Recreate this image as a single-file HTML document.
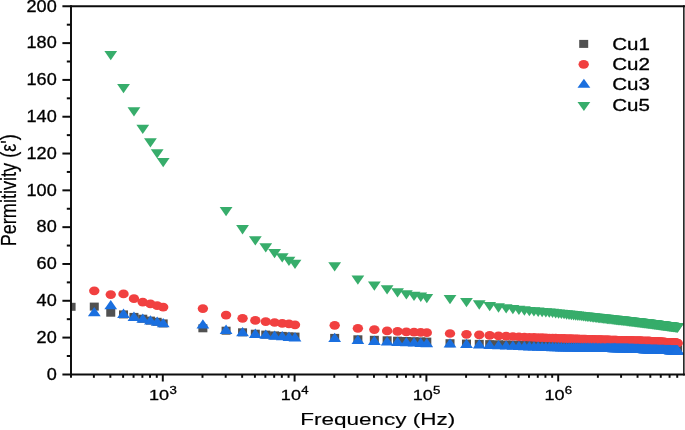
<!DOCTYPE html>
<html><head><meta charset="utf-8"><title>Permitivity vs Frequency</title>
<style>
html,body{margin:0;padding:0;background:#fff;}
body{width:685px;height:430px;overflow:hidden;}
svg{display:block;will-change:transform;}
text{font-family:"Liberation Sans",sans-serif;fill:#000;stroke:#000;stroke-width:0.3px;}
</style></head><body>
<svg width="685" height="430" viewBox="0 0 685 430">
<rect width="685" height="430" fill="#fff"/>
<defs><clipPath id="plot"><rect x="71.0" y="6.3" width="612.85" height="368.09999999999997"/></clipPath></defs>

<g clip-path="url(#plot)">
<g fill="#515151">
<rect x="66.58" y="302.80" width="9.0" height="8.0"/>
<rect x="89.78" y="302.60" width="9.0" height="8.0"/>
<rect x="106.25" y="308.70" width="9.0" height="8.0"/>
<rect x="119.02" y="310.40" width="9.0" height="8.0"/>
<rect x="129.46" y="312.90" width="9.0" height="8.0"/>
<rect x="138.28" y="314.70" width="9.0" height="8.0"/>
<rect x="145.93" y="316.60" width="9.0" height="8.0"/>
<rect x="152.67" y="317.80" width="9.0" height="8.0"/>
<rect x="158.70" y="319.40" width="9.0" height="8.0"/>
<rect x="198.38" y="324.30" width="9.0" height="8.0"/>
<rect x="221.58" y="326.70" width="9.0" height="8.0"/>
<rect x="238.05" y="328.30" width="9.0" height="8.0"/>
<rect x="250.82" y="329.70" width="9.0" height="8.0"/>
<rect x="261.26" y="330.60" width="9.0" height="8.0"/>
<rect x="270.08" y="331.40" width="9.0" height="8.0"/>
<rect x="277.73" y="331.90" width="9.0" height="8.0"/>
<rect x="284.47" y="332.40" width="9.0" height="8.0"/>
<rect x="290.50" y="332.60" width="9.0" height="8.0"/>
<rect x="330.18" y="333.90" width="9.0" height="8.0"/>
<rect x="353.38" y="335.30" width="9.0" height="8.0"/>
<rect x="369.85" y="335.80" width="9.0" height="8.0"/>
<rect x="382.62" y="336.30" width="9.0" height="8.0"/>
<rect x="393.06" y="336.70" width="9.0" height="8.0"/>
<rect x="401.88" y="337.00" width="9.0" height="8.0"/>
<rect x="409.53" y="337.20" width="9.0" height="8.0"/>
<rect x="416.27" y="337.40" width="9.0" height="8.0"/>
<rect x="422.30" y="337.60" width="9.0" height="8.0"/>
<rect x="445.51" y="339.21" width="9.0" height="8.0"/>
<rect x="461.98" y="339.58" width="9.0" height="8.0"/>
<rect x="474.75" y="339.86" width="9.0" height="8.0"/>
<rect x="485.18" y="340.10" width="9.0" height="8.0"/>
<rect x="494.01" y="340.29" width="9.0" height="8.0"/>
<rect x="501.65" y="340.47" width="9.0" height="8.0"/>
<rect x="508.39" y="340.62" width="9.0" height="8.0"/>
<rect x="514.42" y="340.75" width="9.0" height="8.0"/>
<rect x="519.88" y="340.87" width="9.0" height="8.0"/>
<rect x="524.86" y="340.99" width="9.0" height="8.0"/>
<rect x="529.44" y="341.06" width="9.0" height="8.0"/>
<rect x="533.68" y="341.13" width="9.0" height="8.0"/>
<rect x="537.63" y="341.19" width="9.0" height="8.0"/>
<rect x="541.33" y="341.25" width="9.0" height="8.0"/>
<rect x="544.80" y="341.30" width="9.0" height="8.0"/>
<rect x="548.07" y="341.36" width="9.0" height="8.0"/>
<rect x="551.16" y="341.41" width="9.0" height="8.0"/>
<rect x="554.10" y="341.45" width="9.0" height="8.0"/>
<rect x="556.89" y="341.50" width="9.0" height="8.0"/>
<rect x="559.56" y="341.54" width="9.0" height="8.0"/>
<rect x="562.10" y="341.58" width="9.0" height="8.0"/>
<rect x="564.54" y="341.62" width="9.0" height="8.0"/>
<rect x="566.87" y="341.65" width="9.0" height="8.0"/>
<rect x="569.12" y="341.69" width="9.0" height="8.0"/>
<rect x="571.28" y="341.72" width="9.0" height="8.0"/>
<rect x="573.36" y="341.76" width="9.0" height="8.0"/>
<rect x="575.37" y="341.79" width="9.0" height="8.0"/>
<rect x="577.31" y="341.82" width="9.0" height="8.0"/>
<rect x="579.19" y="341.85" width="9.0" height="8.0"/>
<rect x="581.00" y="341.88" width="9.0" height="8.0"/>
<rect x="582.76" y="341.90" width="9.0" height="8.0"/>
<rect x="584.47" y="341.93" width="9.0" height="8.0"/>
<rect x="586.13" y="341.96" width="9.0" height="8.0"/>
<rect x="587.74" y="341.98" width="9.0" height="8.0"/>
<rect x="589.31" y="342.01" width="9.0" height="8.0"/>
<rect x="590.84" y="342.03" width="9.0" height="8.0"/>
<rect x="592.33" y="342.06" width="9.0" height="8.0"/>
<rect x="593.78" y="342.08" width="9.0" height="8.0"/>
<rect x="595.19" y="342.10" width="9.0" height="8.0"/>
<rect x="596.57" y="342.12" width="9.0" height="8.0"/>
<rect x="597.92" y="342.14" width="9.0" height="8.0"/>
<rect x="599.23" y="342.16" width="9.0" height="8.0"/>
<rect x="600.52" y="342.18" width="9.0" height="8.0"/>
<rect x="601.78" y="342.20" width="9.0" height="8.0"/>
<rect x="603.01" y="342.22" width="9.0" height="8.0"/>
<rect x="604.21" y="342.24" width="9.0" height="8.0"/>
<rect x="605.39" y="342.26" width="9.0" height="8.0"/>
<rect x="606.55" y="342.28" width="9.0" height="8.0"/>
<rect x="607.68" y="342.30" width="9.0" height="8.0"/>
<rect x="608.79" y="342.32" width="9.0" height="8.0"/>
<rect x="609.88" y="342.33" width="9.0" height="8.0"/>
<rect x="610.95" y="342.35" width="9.0" height="8.0"/>
<rect x="612.00" y="342.37" width="9.0" height="8.0"/>
<rect x="613.04" y="342.38" width="9.0" height="8.0"/>
<rect x="614.05" y="342.40" width="9.0" height="8.0"/>
<rect x="615.04" y="342.41" width="9.0" height="8.0"/>
<rect x="616.02" y="342.43" width="9.0" height="8.0"/>
<rect x="616.98" y="342.44" width="9.0" height="8.0"/>
<rect x="617.93" y="342.46" width="9.0" height="8.0"/>
<rect x="618.86" y="342.47" width="9.0" height="8.0"/>
<rect x="619.78" y="342.49" width="9.0" height="8.0"/>
<rect x="620.68" y="342.50" width="9.0" height="8.0"/>
<rect x="621.57" y="342.52" width="9.0" height="8.0"/>
<rect x="622.44" y="342.54" width="9.0" height="8.0"/>
<rect x="623.30" y="342.55" width="9.0" height="8.0"/>
<rect x="624.15" y="342.57" width="9.0" height="8.0"/>
<rect x="624.98" y="342.59" width="9.0" height="8.0"/>
<rect x="625.81" y="342.60" width="9.0" height="8.0"/>
<rect x="626.62" y="342.62" width="9.0" height="8.0"/>
<rect x="627.42" y="342.63" width="9.0" height="8.0"/>
<rect x="628.21" y="342.65" width="9.0" height="8.0"/>
<rect x="628.99" y="342.66" width="9.0" height="8.0"/>
<rect x="629.76" y="342.68" width="9.0" height="8.0"/>
<rect x="630.52" y="342.69" width="9.0" height="8.0"/>
<rect x="631.26" y="342.71" width="9.0" height="8.0"/>
<rect x="632.00" y="342.72" width="9.0" height="8.0"/>
<rect x="632.73" y="342.73" width="9.0" height="8.0"/>
<rect x="633.45" y="342.75" width="9.0" height="8.0"/>
<rect x="634.16" y="342.76" width="9.0" height="8.0"/>
<rect x="634.86" y="342.78" width="9.0" height="8.0"/>
<rect x="635.56" y="342.79" width="9.0" height="8.0"/>
<rect x="636.24" y="342.80" width="9.0" height="8.0"/>
<rect x="636.92" y="342.81" width="9.0" height="8.0"/>
<rect x="637.59" y="342.83" width="9.0" height="8.0"/>
<rect x="638.25" y="342.84" width="9.0" height="8.0"/>
<rect x="638.91" y="342.85" width="9.0" height="8.0"/>
<rect x="639.55" y="342.87" width="9.0" height="8.0"/>
<rect x="640.19" y="342.88" width="9.0" height="8.0"/>
<rect x="640.83" y="342.89" width="9.0" height="8.0"/>
<rect x="641.45" y="342.90" width="9.0" height="8.0"/>
<rect x="642.07" y="342.91" width="9.0" height="8.0"/>
<rect x="642.68" y="342.92" width="9.0" height="8.0"/>
<rect x="643.29" y="342.94" width="9.0" height="8.0"/>
<rect x="643.89" y="342.95" width="9.0" height="8.0"/>
<rect x="644.48" y="342.96" width="9.0" height="8.0"/>
<rect x="645.07" y="342.97" width="9.0" height="8.0"/>
<rect x="645.65" y="342.98" width="9.0" height="8.0"/>
<rect x="646.22" y="342.99" width="9.0" height="8.0"/>
<rect x="646.79" y="343.00" width="9.0" height="8.0"/>
<rect x="647.36" y="343.01" width="9.0" height="8.0"/>
<rect x="647.92" y="343.03" width="9.0" height="8.0"/>
<rect x="648.47" y="343.04" width="9.0" height="8.0"/>
<rect x="649.02" y="343.05" width="9.0" height="8.0"/>
<rect x="649.56" y="343.06" width="9.0" height="8.0"/>
<rect x="650.10" y="343.07" width="9.0" height="8.0"/>
<rect x="650.63" y="343.08" width="9.0" height="8.0"/>
<rect x="651.16" y="343.09" width="9.0" height="8.0"/>
<rect x="651.68" y="343.10" width="9.0" height="8.0"/>
<rect x="652.20" y="343.11" width="9.0" height="8.0"/>
<rect x="652.71" y="343.12" width="9.0" height="8.0"/>
<rect x="653.22" y="343.13" width="9.0" height="8.0"/>
<rect x="653.72" y="343.14" width="9.0" height="8.0"/>
<rect x="654.22" y="343.15" width="9.0" height="8.0"/>
<rect x="654.72" y="343.16" width="9.0" height="8.0"/>
<rect x="655.21" y="343.16" width="9.0" height="8.0"/>
<rect x="655.70" y="343.17" width="9.0" height="8.0"/>
<rect x="656.18" y="343.18" width="9.0" height="8.0"/>
<rect x="656.66" y="343.19" width="9.0" height="8.0"/>
<rect x="657.14" y="343.20" width="9.0" height="8.0"/>
<rect x="657.61" y="343.21" width="9.0" height="8.0"/>
<rect x="658.07" y="343.22" width="9.0" height="8.0"/>
<rect x="658.54" y="343.23" width="9.0" height="8.0"/>
<rect x="659.00" y="343.24" width="9.0" height="8.0"/>
<rect x="659.45" y="343.25" width="9.0" height="8.0"/>
<rect x="659.91" y="343.25" width="9.0" height="8.0"/>
<rect x="660.35" y="343.26" width="9.0" height="8.0"/>
<rect x="660.80" y="343.27" width="9.0" height="8.0"/>
<rect x="661.24" y="343.28" width="9.0" height="8.0"/>
<rect x="661.68" y="343.29" width="9.0" height="8.0"/>
<rect x="662.12" y="343.30" width="9.0" height="8.0"/>
<rect x="662.55" y="343.31" width="9.0" height="8.0"/>
<rect x="662.98" y="343.31" width="9.0" height="8.0"/>
<rect x="663.40" y="343.32" width="9.0" height="8.0"/>
<rect x="663.82" y="343.33" width="9.0" height="8.0"/>
<rect x="664.24" y="343.34" width="9.0" height="8.0"/>
<rect x="664.66" y="343.35" width="9.0" height="8.0"/>
<rect x="665.07" y="343.35" width="9.0" height="8.0"/>
<rect x="665.48" y="343.36" width="9.0" height="8.0"/>
<rect x="665.89" y="343.37" width="9.0" height="8.0"/>
<rect x="666.30" y="343.38" width="9.0" height="8.0"/>
<rect x="666.70" y="343.39" width="9.0" height="8.0"/>
<rect x="667.10" y="343.39" width="9.0" height="8.0"/>
<rect x="667.49" y="343.40" width="9.0" height="8.0"/>
<rect x="667.89" y="343.41" width="9.0" height="8.0"/>
<rect x="668.28" y="343.42" width="9.0" height="8.0"/>
<rect x="668.66" y="343.42" width="9.0" height="8.0"/>
<rect x="669.05" y="343.43" width="9.0" height="8.0"/>
<rect x="669.43" y="343.44" width="9.0" height="8.0"/>
<rect x="669.81" y="343.44" width="9.0" height="8.0"/>
<rect x="670.19" y="343.45" width="9.0" height="8.0"/>
<rect x="670.57" y="343.46" width="9.0" height="8.0"/>
<rect x="670.94" y="343.47" width="9.0" height="8.0"/>
<rect x="671.31" y="343.47" width="9.0" height="8.0"/>
<rect x="671.68" y="343.48" width="9.0" height="8.0"/>
<rect x="672.04" y="343.49" width="9.0" height="8.0"/>
<rect x="672.41" y="343.49" width="9.0" height="8.0"/>
<rect x="672.77" y="343.50" width="9.0" height="8.0"/>
<rect x="673.13" y="343.50" width="9.0" height="8.0"/>
</g>
<g fill="#F14040">
<ellipse cx="94.28" cy="290.80" rx="5.2" ry="4.35"/>
<ellipse cx="110.75" cy="294.60" rx="5.2" ry="4.35"/>
<ellipse cx="123.52" cy="293.90" rx="5.2" ry="4.35"/>
<ellipse cx="133.96" cy="298.70" rx="5.2" ry="4.35"/>
<ellipse cx="142.78" cy="302.20" rx="5.2" ry="4.35"/>
<ellipse cx="150.43" cy="303.90" rx="5.2" ry="4.35"/>
<ellipse cx="157.17" cy="305.70" rx="5.2" ry="4.35"/>
<ellipse cx="163.20" cy="307.10" rx="5.2" ry="4.35"/>
<ellipse cx="202.88" cy="308.60" rx="5.2" ry="4.35"/>
<ellipse cx="226.08" cy="315.10" rx="5.2" ry="4.35"/>
<ellipse cx="242.55" cy="318.30" rx="5.2" ry="4.35"/>
<ellipse cx="255.32" cy="320.40" rx="5.2" ry="4.35"/>
<ellipse cx="265.76" cy="321.60" rx="5.2" ry="4.35"/>
<ellipse cx="274.58" cy="322.50" rx="5.2" ry="4.35"/>
<ellipse cx="282.23" cy="323.40" rx="5.2" ry="4.35"/>
<ellipse cx="288.97" cy="323.90" rx="5.2" ry="4.35"/>
<ellipse cx="295.00" cy="324.80" rx="5.2" ry="4.35"/>
<ellipse cx="334.68" cy="325.30" rx="5.2" ry="4.35"/>
<ellipse cx="357.88" cy="328.30" rx="5.2" ry="4.35"/>
<ellipse cx="374.35" cy="329.60" rx="5.2" ry="4.35"/>
<ellipse cx="387.12" cy="330.90" rx="5.2" ry="4.35"/>
<ellipse cx="397.56" cy="331.40" rx="5.2" ry="4.35"/>
<ellipse cx="406.38" cy="331.80" rx="5.2" ry="4.35"/>
<ellipse cx="414.03" cy="332.10" rx="5.2" ry="4.35"/>
<ellipse cx="420.77" cy="332.40" rx="5.2" ry="4.35"/>
<ellipse cx="426.80" cy="332.70" rx="5.2" ry="4.35"/>
<ellipse cx="450.01" cy="333.52" rx="5.2" ry="4.35"/>
<ellipse cx="466.48" cy="334.32" rx="5.2" ry="4.35"/>
<ellipse cx="479.25" cy="334.82" rx="5.2" ry="4.35"/>
<ellipse cx="489.68" cy="335.42" rx="5.2" ry="4.35"/>
<ellipse cx="498.51" cy="335.83" rx="5.2" ry="4.35"/>
<ellipse cx="506.15" cy="336.19" rx="5.2" ry="4.35"/>
<ellipse cx="512.89" cy="336.50" rx="5.2" ry="4.35"/>
<ellipse cx="518.92" cy="336.78" rx="5.2" ry="4.35"/>
<ellipse cx="524.38" cy="337.04" rx="5.2" ry="4.35"/>
<ellipse cx="529.36" cy="337.27" rx="5.2" ry="4.35"/>
<ellipse cx="533.94" cy="337.44" rx="5.2" ry="4.35"/>
<ellipse cx="538.18" cy="337.59" rx="5.2" ry="4.35"/>
<ellipse cx="542.13" cy="337.72" rx="5.2" ry="4.35"/>
<ellipse cx="545.83" cy="337.85" rx="5.2" ry="4.35"/>
<ellipse cx="549.30" cy="337.98" rx="5.2" ry="4.35"/>
<ellipse cx="552.57" cy="338.09" rx="5.2" ry="4.35"/>
<ellipse cx="555.66" cy="338.19" rx="5.2" ry="4.35"/>
<ellipse cx="558.60" cy="338.29" rx="5.2" ry="4.35"/>
<ellipse cx="561.39" cy="338.38" rx="5.2" ry="4.35"/>
<ellipse cx="564.06" cy="338.47" rx="5.2" ry="4.35"/>
<ellipse cx="566.60" cy="338.55" rx="5.2" ry="4.35"/>
<ellipse cx="569.04" cy="338.63" rx="5.2" ry="4.35"/>
<ellipse cx="571.37" cy="338.71" rx="5.2" ry="4.35"/>
<ellipse cx="573.62" cy="338.79" rx="5.2" ry="4.35"/>
<ellipse cx="575.78" cy="338.86" rx="5.2" ry="4.35"/>
<ellipse cx="577.86" cy="338.93" rx="5.2" ry="4.35"/>
<ellipse cx="579.87" cy="339.00" rx="5.2" ry="4.35"/>
<ellipse cx="581.81" cy="339.06" rx="5.2" ry="4.35"/>
<ellipse cx="583.69" cy="339.12" rx="5.2" ry="4.35"/>
<ellipse cx="585.50" cy="339.18" rx="5.2" ry="4.35"/>
<ellipse cx="587.26" cy="339.24" rx="5.2" ry="4.35"/>
<ellipse cx="588.97" cy="339.30" rx="5.2" ry="4.35"/>
<ellipse cx="590.63" cy="339.35" rx="5.2" ry="4.35"/>
<ellipse cx="592.24" cy="339.41" rx="5.2" ry="4.35"/>
<ellipse cx="593.81" cy="339.46" rx="5.2" ry="4.35"/>
<ellipse cx="595.34" cy="339.51" rx="5.2" ry="4.35"/>
<ellipse cx="596.83" cy="339.56" rx="5.2" ry="4.35"/>
<ellipse cx="598.28" cy="339.61" rx="5.2" ry="4.35"/>
<ellipse cx="599.69" cy="339.66" rx="5.2" ry="4.35"/>
<ellipse cx="601.07" cy="339.70" rx="5.2" ry="4.35"/>
<ellipse cx="602.42" cy="339.75" rx="5.2" ry="4.35"/>
<ellipse cx="603.73" cy="339.79" rx="5.2" ry="4.35"/>
<ellipse cx="605.02" cy="339.83" rx="5.2" ry="4.35"/>
<ellipse cx="606.28" cy="339.88" rx="5.2" ry="4.35"/>
<ellipse cx="607.51" cy="339.92" rx="5.2" ry="4.35"/>
<ellipse cx="608.71" cy="339.96" rx="5.2" ry="4.35"/>
<ellipse cx="609.89" cy="340.00" rx="5.2" ry="4.35"/>
<ellipse cx="611.05" cy="340.03" rx="5.2" ry="4.35"/>
<ellipse cx="612.18" cy="340.07" rx="5.2" ry="4.35"/>
<ellipse cx="613.29" cy="340.11" rx="5.2" ry="4.35"/>
<ellipse cx="614.38" cy="340.15" rx="5.2" ry="4.35"/>
<ellipse cx="615.45" cy="340.18" rx="5.2" ry="4.35"/>
<ellipse cx="616.50" cy="340.22" rx="5.2" ry="4.35"/>
<ellipse cx="617.54" cy="340.25" rx="5.2" ry="4.35"/>
<ellipse cx="618.55" cy="340.28" rx="5.2" ry="4.35"/>
<ellipse cx="619.54" cy="340.32" rx="5.2" ry="4.35"/>
<ellipse cx="620.52" cy="340.35" rx="5.2" ry="4.35"/>
<ellipse cx="621.48" cy="340.38" rx="5.2" ry="4.35"/>
<ellipse cx="622.43" cy="340.41" rx="5.2" ry="4.35"/>
<ellipse cx="623.36" cy="340.45" rx="5.2" ry="4.35"/>
<ellipse cx="624.28" cy="340.48" rx="5.2" ry="4.35"/>
<ellipse cx="625.18" cy="340.51" rx="5.2" ry="4.35"/>
<ellipse cx="626.07" cy="340.53" rx="5.2" ry="4.35"/>
<ellipse cx="626.94" cy="340.55" rx="5.2" ry="4.35"/>
<ellipse cx="627.80" cy="340.58" rx="5.2" ry="4.35"/>
<ellipse cx="628.65" cy="340.60" rx="5.2" ry="4.35"/>
<ellipse cx="629.48" cy="340.63" rx="5.2" ry="4.35"/>
<ellipse cx="630.31" cy="340.65" rx="5.2" ry="4.35"/>
<ellipse cx="631.12" cy="340.67" rx="5.2" ry="4.35"/>
<ellipse cx="631.92" cy="340.69" rx="5.2" ry="4.35"/>
<ellipse cx="632.71" cy="340.72" rx="5.2" ry="4.35"/>
<ellipse cx="633.49" cy="340.74" rx="5.2" ry="4.35"/>
<ellipse cx="634.26" cy="340.76" rx="5.2" ry="4.35"/>
<ellipse cx="635.02" cy="340.78" rx="5.2" ry="4.35"/>
<ellipse cx="635.76" cy="340.80" rx="5.2" ry="4.35"/>
<ellipse cx="636.50" cy="340.82" rx="5.2" ry="4.35"/>
<ellipse cx="637.23" cy="340.84" rx="5.2" ry="4.35"/>
<ellipse cx="637.95" cy="340.86" rx="5.2" ry="4.35"/>
<ellipse cx="638.66" cy="340.88" rx="5.2" ry="4.35"/>
<ellipse cx="639.36" cy="340.90" rx="5.2" ry="4.35"/>
<ellipse cx="640.06" cy="340.92" rx="5.2" ry="4.35"/>
<ellipse cx="640.74" cy="340.94" rx="5.2" ry="4.35"/>
<ellipse cx="641.42" cy="340.96" rx="5.2" ry="4.35"/>
<ellipse cx="642.09" cy="340.98" rx="5.2" ry="4.35"/>
<ellipse cx="642.75" cy="341.00" rx="5.2" ry="4.35"/>
<ellipse cx="643.41" cy="341.02" rx="5.2" ry="4.35"/>
<ellipse cx="644.05" cy="341.03" rx="5.2" ry="4.35"/>
<ellipse cx="644.69" cy="341.05" rx="5.2" ry="4.35"/>
<ellipse cx="645.33" cy="341.07" rx="5.2" ry="4.35"/>
<ellipse cx="645.95" cy="341.09" rx="5.2" ry="4.35"/>
<ellipse cx="646.57" cy="341.10" rx="5.2" ry="4.35"/>
<ellipse cx="647.18" cy="341.12" rx="5.2" ry="4.35"/>
<ellipse cx="647.79" cy="341.14" rx="5.2" ry="4.35"/>
<ellipse cx="648.39" cy="341.15" rx="5.2" ry="4.35"/>
<ellipse cx="648.98" cy="341.17" rx="5.2" ry="4.35"/>
<ellipse cx="649.57" cy="341.19" rx="5.2" ry="4.35"/>
<ellipse cx="650.15" cy="341.21" rx="5.2" ry="4.35"/>
<ellipse cx="650.72" cy="341.25" rx="5.2" ry="4.35"/>
<ellipse cx="651.29" cy="341.29" rx="5.2" ry="4.35"/>
<ellipse cx="651.86" cy="341.32" rx="5.2" ry="4.35"/>
<ellipse cx="652.42" cy="341.36" rx="5.2" ry="4.35"/>
<ellipse cx="652.97" cy="341.40" rx="5.2" ry="4.35"/>
<ellipse cx="653.52" cy="341.43" rx="5.2" ry="4.35"/>
<ellipse cx="654.06" cy="341.47" rx="5.2" ry="4.35"/>
<ellipse cx="654.60" cy="341.50" rx="5.2" ry="4.35"/>
<ellipse cx="655.13" cy="341.54" rx="5.2" ry="4.35"/>
<ellipse cx="655.66" cy="341.57" rx="5.2" ry="4.35"/>
<ellipse cx="656.18" cy="341.61" rx="5.2" ry="4.35"/>
<ellipse cx="656.70" cy="341.64" rx="5.2" ry="4.35"/>
<ellipse cx="657.21" cy="341.68" rx="5.2" ry="4.35"/>
<ellipse cx="657.72" cy="341.71" rx="5.2" ry="4.35"/>
<ellipse cx="658.22" cy="341.74" rx="5.2" ry="4.35"/>
<ellipse cx="658.72" cy="341.78" rx="5.2" ry="4.35"/>
<ellipse cx="659.22" cy="341.81" rx="5.2" ry="4.35"/>
<ellipse cx="659.71" cy="341.84" rx="5.2" ry="4.35"/>
<ellipse cx="660.20" cy="341.87" rx="5.2" ry="4.35"/>
<ellipse cx="660.68" cy="341.91" rx="5.2" ry="4.35"/>
<ellipse cx="661.16" cy="341.94" rx="5.2" ry="4.35"/>
<ellipse cx="661.64" cy="341.97" rx="5.2" ry="4.35"/>
<ellipse cx="662.11" cy="342.00" rx="5.2" ry="4.35"/>
<ellipse cx="662.57" cy="342.03" rx="5.2" ry="4.35"/>
<ellipse cx="663.04" cy="342.06" rx="5.2" ry="4.35"/>
<ellipse cx="663.50" cy="342.09" rx="5.2" ry="4.35"/>
<ellipse cx="663.95" cy="342.12" rx="5.2" ry="4.35"/>
<ellipse cx="664.41" cy="342.15" rx="5.2" ry="4.35"/>
<ellipse cx="664.85" cy="342.18" rx="5.2" ry="4.35"/>
<ellipse cx="665.30" cy="342.21" rx="5.2" ry="4.35"/>
<ellipse cx="665.74" cy="342.24" rx="5.2" ry="4.35"/>
<ellipse cx="666.18" cy="342.27" rx="5.2" ry="4.35"/>
<ellipse cx="666.62" cy="342.30" rx="5.2" ry="4.35"/>
<ellipse cx="667.05" cy="342.33" rx="5.2" ry="4.35"/>
<ellipse cx="667.48" cy="342.36" rx="5.2" ry="4.35"/>
<ellipse cx="667.90" cy="342.38" rx="5.2" ry="4.35"/>
<ellipse cx="668.32" cy="342.41" rx="5.2" ry="4.35"/>
<ellipse cx="668.74" cy="342.44" rx="5.2" ry="4.35"/>
<ellipse cx="669.16" cy="342.47" rx="5.2" ry="4.35"/>
<ellipse cx="669.57" cy="342.50" rx="5.2" ry="4.35"/>
<ellipse cx="669.98" cy="342.52" rx="5.2" ry="4.35"/>
<ellipse cx="670.39" cy="342.55" rx="5.2" ry="4.35"/>
<ellipse cx="670.80" cy="342.58" rx="5.2" ry="4.35"/>
<ellipse cx="671.20" cy="342.60" rx="5.2" ry="4.35"/>
<ellipse cx="671.60" cy="342.63" rx="5.2" ry="4.35"/>
<ellipse cx="671.99" cy="342.66" rx="5.2" ry="4.35"/>
<ellipse cx="672.39" cy="342.68" rx="5.2" ry="4.35"/>
<ellipse cx="672.78" cy="342.71" rx="5.2" ry="4.35"/>
<ellipse cx="673.16" cy="342.73" rx="5.2" ry="4.35"/>
<ellipse cx="673.55" cy="342.76" rx="5.2" ry="4.35"/>
<ellipse cx="673.93" cy="342.78" rx="5.2" ry="4.35"/>
<ellipse cx="674.31" cy="342.81" rx="5.2" ry="4.35"/>
<ellipse cx="674.69" cy="342.83" rx="5.2" ry="4.35"/>
<ellipse cx="675.07" cy="342.86" rx="5.2" ry="4.35"/>
<ellipse cx="675.44" cy="342.88" rx="5.2" ry="4.35"/>
<ellipse cx="675.81" cy="342.91" rx="5.2" ry="4.35"/>
<ellipse cx="676.18" cy="342.93" rx="5.2" ry="4.35"/>
<ellipse cx="676.54" cy="342.96" rx="5.2" ry="4.35"/>
<ellipse cx="676.91" cy="342.98" rx="5.2" ry="4.35"/>
<ellipse cx="677.27" cy="343.00" rx="5.2" ry="4.35"/>
<ellipse cx="677.63" cy="343.00" rx="5.2" ry="4.35"/>
</g>
<g fill="#1A6FDF">
<path d="M87.88 316.20L100.68 316.20L94.28 306.90Z"/>
<path d="M104.35 309.20L117.15 309.20L110.75 299.90Z"/>
<path d="M117.12 317.90L129.92 317.90L123.52 308.60Z"/>
<path d="M127.56 320.90L140.36 320.90L133.96 311.60Z"/>
<path d="M136.38 322.70L149.18 322.70L142.78 313.40Z"/>
<path d="M144.03 324.60L156.83 324.60L150.43 315.30Z"/>
<path d="M150.77 325.80L163.57 325.80L157.17 316.50Z"/>
<path d="M156.80 327.20L169.60 327.20L163.20 317.90Z"/>
<path d="M196.48 328.60L209.28 328.60L202.88 319.30Z"/>
<path d="M219.68 333.90L232.48 333.90L226.08 324.60Z"/>
<path d="M236.15 336.20L248.95 336.20L242.55 326.90Z"/>
<path d="M248.92 337.90L261.72 337.90L255.32 328.60Z"/>
<path d="M259.36 338.80L272.16 338.80L265.76 329.50Z"/>
<path d="M268.18 339.70L280.98 339.70L274.58 330.40Z"/>
<path d="M275.83 340.20L288.63 340.20L282.23 330.90Z"/>
<path d="M282.57 340.90L295.37 340.90L288.97 331.60Z"/>
<path d="M288.60 341.40L301.40 341.40L295.00 332.10Z"/>
<path d="M328.28 342.00L341.08 342.00L334.68 332.70Z"/>
<path d="M351.48 344.10L364.28 344.10L357.88 334.80Z"/>
<path d="M367.95 344.90L380.75 344.90L374.35 335.60Z"/>
<path d="M380.72 345.50L393.52 345.50L387.12 336.20Z"/>
<path d="M391.16 345.90L403.96 345.90L397.56 336.60Z"/>
<path d="M399.98 346.30L412.78 346.30L406.38 337.00Z"/>
<path d="M407.63 346.60L420.43 346.60L414.03 337.30Z"/>
<path d="M414.37 346.90L427.17 346.90L420.77 337.60Z"/>
<path d="M420.40 347.20L433.20 347.20L426.80 337.90Z"/>
<path d="M443.61 347.51L456.41 347.51L450.01 338.21Z"/>
<path d="M460.08 348.11L472.88 348.11L466.48 338.81Z"/>
<path d="M472.85 348.57L485.65 348.57L479.25 339.27Z"/>
<path d="M483.28 348.95L496.08 348.95L489.68 339.65Z"/>
<path d="M492.11 349.26L504.91 349.26L498.51 339.96Z"/>
<path d="M499.75 349.54L512.55 349.54L506.15 340.24Z"/>
<path d="M506.49 349.78L519.29 349.78L512.89 340.48Z"/>
<path d="M512.52 350.00L525.32 350.00L518.92 340.70Z"/>
<path d="M517.98 350.20L530.78 350.20L524.38 340.90Z"/>
<path d="M522.96 350.38L535.76 350.38L529.36 341.08Z"/>
<path d="M527.54 350.53L540.34 350.53L533.94 341.23Z"/>
<path d="M531.78 350.67L544.58 350.67L538.18 341.37Z"/>
<path d="M535.73 350.80L548.53 350.80L542.13 341.50Z"/>
<path d="M539.43 350.93L552.23 350.93L545.83 341.63Z"/>
<path d="M542.90 351.04L555.70 351.04L549.30 341.74Z"/>
<path d="M546.17 351.15L558.97 351.15L552.57 341.85Z"/>
<path d="M549.26 351.26L562.06 351.26L555.66 341.96Z"/>
<path d="M552.20 351.35L565.00 351.35L558.60 342.05Z"/>
<path d="M554.99 351.42L567.79 351.42L561.39 342.12Z"/>
<path d="M557.66 351.46L570.46 351.46L564.06 342.16Z"/>
<path d="M560.20 351.49L573.00 351.49L566.60 342.19Z"/>
<path d="M562.64 351.53L575.44 351.53L569.04 342.23Z"/>
<path d="M564.97 351.56L577.77 351.56L571.37 342.26Z"/>
<path d="M567.22 351.59L580.02 351.59L573.62 342.29Z"/>
<path d="M569.38 351.62L582.18 351.62L575.78 342.32Z"/>
<path d="M571.46 351.65L584.26 351.65L577.86 342.35Z"/>
<path d="M573.47 351.68L586.27 351.68L579.87 342.38Z"/>
<path d="M575.41 351.70L588.21 351.70L581.81 342.40Z"/>
<path d="M577.29 351.73L590.09 351.73L583.69 342.43Z"/>
<path d="M579.10 351.75L591.90 351.75L585.50 342.45Z"/>
<path d="M580.86 351.78L593.66 351.78L587.26 342.48Z"/>
<path d="M582.57 351.80L595.37 351.80L588.97 342.50Z"/>
<path d="M584.23 351.82L597.03 351.82L590.63 342.52Z"/>
<path d="M585.84 351.85L598.64 351.85L592.24 342.55Z"/>
<path d="M587.41 351.87L600.21 351.87L593.81 342.57Z"/>
<path d="M588.94 351.89L601.74 351.89L595.34 342.59Z"/>
<path d="M590.43 351.91L603.23 351.91L596.83 342.61Z"/>
<path d="M591.88 351.93L604.68 351.93L598.28 342.63Z"/>
<path d="M593.29 351.95L606.09 351.95L599.69 342.65Z"/>
<path d="M594.67 351.97L607.47 351.97L601.07 342.67Z"/>
<path d="M596.02 351.99L608.82 351.99L602.42 342.69Z"/>
<path d="M597.33 352.01L610.13 352.01L603.73 342.71Z"/>
<path d="M598.62 352.02L611.42 352.02L605.02 342.72Z"/>
<path d="M599.88 352.04L612.68 352.04L606.28 342.74Z"/>
<path d="M601.11 352.06L613.91 352.06L607.51 342.76Z"/>
<path d="M602.31 352.07L615.11 352.07L608.71 342.77Z"/>
<path d="M603.49 352.09L616.29 352.09L609.89 342.79Z"/>
<path d="M604.65 352.11L617.45 352.11L611.05 342.81Z"/>
<path d="M605.78 352.12L618.58 352.12L612.18 342.82Z"/>
<path d="M606.89 352.14L619.69 352.14L613.29 342.84Z"/>
<path d="M607.98 352.15L620.78 352.15L614.38 342.85Z"/>
<path d="M609.05 352.17L621.85 352.17L615.45 342.87Z"/>
<path d="M610.10 352.18L622.90 352.18L616.50 342.88Z"/>
<path d="M611.14 352.20L623.94 352.20L617.54 342.90Z"/>
<path d="M612.15 352.21L624.95 352.21L618.55 342.91Z"/>
<path d="M613.14 352.22L625.94 352.22L619.54 342.92Z"/>
<path d="M614.12 352.24L626.92 352.24L620.52 342.94Z"/>
<path d="M615.08 352.25L627.88 352.25L621.48 342.95Z"/>
<path d="M616.03 352.26L628.83 352.26L622.43 342.96Z"/>
<path d="M616.96 352.28L629.76 352.28L623.36 342.98Z"/>
<path d="M617.88 352.29L630.68 352.29L624.28 342.99Z"/>
<path d="M618.78 352.31L631.58 352.31L625.18 343.01Z"/>
<path d="M619.67 352.35L632.47 352.35L626.07 343.05Z"/>
<path d="M620.54 352.39L633.34 352.39L626.94 343.09Z"/>
<path d="M621.40 352.42L634.20 352.42L627.80 343.12Z"/>
<path d="M622.25 352.46L635.05 352.46L628.65 343.16Z"/>
<path d="M623.08 352.50L635.88 352.50L629.48 343.20Z"/>
<path d="M623.91 352.53L636.71 352.53L630.31 343.23Z"/>
<path d="M624.72 352.57L637.52 352.57L631.12 343.27Z"/>
<path d="M625.52 352.60L638.32 352.60L631.92 343.30Z"/>
<path d="M626.31 352.64L639.11 352.64L632.71 343.34Z"/>
<path d="M627.09 352.67L639.89 352.67L633.49 343.37Z"/>
<path d="M627.86 352.71L640.66 352.71L634.26 343.41Z"/>
<path d="M628.62 352.74L641.42 352.74L635.02 343.44Z"/>
<path d="M629.36 352.77L642.16 352.77L635.76 343.47Z"/>
<path d="M630.10 352.81L642.90 352.81L636.50 343.51Z"/>
<path d="M630.83 352.84L643.63 352.84L637.23 343.54Z"/>
<path d="M631.55 352.87L644.35 352.87L637.95 343.57Z"/>
<path d="M632.26 352.90L645.06 352.90L638.66 343.60Z"/>
<path d="M632.96 352.93L645.76 352.93L639.36 343.63Z"/>
<path d="M633.66 352.96L646.46 352.96L640.06 343.66Z"/>
<path d="M634.34 352.99L647.14 352.99L640.74 343.69Z"/>
<path d="M635.02 353.02L647.82 353.02L641.42 343.72Z"/>
<path d="M635.69 353.05L648.49 353.05L642.09 343.75Z"/>
<path d="M636.35 353.08L649.15 353.08L642.75 343.78Z"/>
<path d="M637.01 353.11L649.81 353.11L643.41 343.81Z"/>
<path d="M637.65 353.14L650.45 353.14L644.05 343.84Z"/>
<path d="M638.29 353.17L651.09 353.17L644.69 343.87Z"/>
<path d="M638.93 353.19L651.73 353.19L645.33 343.89Z"/>
<path d="M639.55 353.22L652.35 353.22L645.95 343.92Z"/>
<path d="M640.17 353.25L652.97 353.25L646.57 343.95Z"/>
<path d="M640.78 353.28L653.58 353.28L647.18 343.98Z"/>
<path d="M641.39 353.30L654.19 353.30L647.79 344.00Z"/>
<path d="M641.99 353.33L654.79 353.33L648.39 344.03Z"/>
<path d="M642.58 353.36L655.38 353.36L648.98 344.06Z"/>
<path d="M643.17 353.38L655.97 353.38L649.57 344.08Z"/>
<path d="M643.75 353.41L656.55 353.41L650.15 344.11Z"/>
<path d="M644.32 353.43L657.12 353.43L650.72 344.13Z"/>
<path d="M644.89 353.45L657.69 353.45L651.29 344.15Z"/>
<path d="M645.46 353.47L658.26 353.47L651.86 344.17Z"/>
<path d="M646.02 353.49L658.82 353.49L652.42 344.19Z"/>
<path d="M646.57 353.51L659.37 353.51L652.97 344.21Z"/>
<path d="M647.12 353.53L659.92 353.53L653.52 344.23Z"/>
<path d="M647.66 353.55L660.46 353.55L654.06 344.25Z"/>
<path d="M648.20 353.57L661.00 353.57L654.60 344.27Z"/>
<path d="M648.73 353.59L661.53 353.59L655.13 344.29Z"/>
<path d="M649.26 353.61L662.06 353.61L655.66 344.31Z"/>
<path d="M649.78 353.63L662.58 353.63L656.18 344.33Z"/>
<path d="M650.30 353.65L663.10 353.65L656.70 344.35Z"/>
<path d="M650.81 353.67L663.61 353.67L657.21 344.37Z"/>
<path d="M651.32 353.68L664.12 353.68L657.72 344.38Z"/>
<path d="M651.82 353.70L664.62 353.70L658.22 344.40Z"/>
<path d="M652.32 353.72L665.12 353.72L658.72 344.42Z"/>
<path d="M652.82 353.74L665.62 353.74L659.22 344.44Z"/>
<path d="M653.31 353.76L666.11 353.76L659.71 344.46Z"/>
<path d="M653.80 353.77L666.60 353.77L660.20 344.47Z"/>
<path d="M654.28 353.79L667.08 353.79L660.68 344.49Z"/>
<path d="M654.76 353.81L667.56 353.81L661.16 344.51Z"/>
<path d="M655.24 353.83L668.04 353.83L661.64 344.53Z"/>
<path d="M655.71 353.85L668.51 353.85L662.11 344.55Z"/>
<path d="M656.17 353.86L668.97 353.86L662.57 344.56Z"/>
<path d="M656.64 353.88L669.44 353.88L663.04 344.58Z"/>
<path d="M657.10 353.90L669.90 353.90L663.50 344.60Z"/>
<path d="M657.55 353.91L670.35 353.91L663.95 344.61Z"/>
<path d="M658.01 353.93L670.81 353.93L664.41 344.63Z"/>
<path d="M658.45 353.95L671.25 353.95L664.85 344.65Z"/>
<path d="M658.90 353.96L671.70 353.96L665.30 344.66Z"/>
<path d="M659.34 353.98L672.14 353.98L665.74 344.68Z"/>
<path d="M659.78 353.99L672.58 353.99L666.18 344.69Z"/>
<path d="M660.22 354.01L673.02 354.01L666.62 344.71Z"/>
<path d="M660.65 354.03L673.45 354.03L667.05 344.73Z"/>
<path d="M661.08 354.04L673.88 354.04L667.48 344.74Z"/>
<path d="M661.50 354.06L674.30 354.06L667.90 344.76Z"/>
<path d="M661.92 354.07L674.72 354.07L668.32 344.77Z"/>
<path d="M662.34 354.09L675.14 354.09L668.74 344.79Z"/>
<path d="M662.76 354.10L675.56 354.10L669.16 344.80Z"/>
<path d="M663.17 354.12L675.97 354.12L669.57 344.82Z"/>
<path d="M663.58 354.13L676.38 354.13L669.98 344.83Z"/>
<path d="M663.99 354.15L676.79 354.15L670.39 344.85Z"/>
<path d="M664.40 354.16L677.20 354.16L670.80 344.86Z"/>
<path d="M664.80 354.18L677.60 354.18L671.20 344.88Z"/>
<path d="M665.20 354.19L678.00 354.19L671.60 344.89Z"/>
<path d="M665.59 354.21L678.39 354.21L671.99 344.91Z"/>
<path d="M665.99 354.22L678.79 354.22L672.39 344.92Z"/>
<path d="M666.38 354.24L679.18 354.24L672.78 344.94Z"/>
<path d="M666.76 354.25L679.56 354.25L673.16 344.95Z"/>
<path d="M667.15 354.27L679.95 354.27L673.55 344.97Z"/>
<path d="M667.53 354.28L680.33 354.28L673.93 344.98Z"/>
<path d="M667.91 354.29L680.71 354.29L674.31 344.99Z"/>
<path d="M668.29 354.31L681.09 354.31L674.69 345.01Z"/>
<path d="M668.67 354.32L681.47 354.32L675.07 345.02Z"/>
<path d="M669.04 354.34L681.84 354.34L675.44 345.04Z"/>
<path d="M669.41 354.35L682.21 354.35L675.81 345.05Z"/>
<path d="M669.78 354.36L682.58 354.36L676.18 345.06Z"/>
<path d="M670.14 354.38L682.94 354.38L676.54 345.08Z"/>
<path d="M670.51 354.39L683.31 354.39L676.91 345.09Z"/>
<path d="M670.87 354.40L683.67 354.40L677.27 345.10Z"/>
<path d="M671.23 354.40L684.03 354.40L677.63 345.10Z"/>
</g>
<g fill="#37AD6B">
<path d="M104.35 51.00L117.15 51.00L110.75 60.30Z"/>
<path d="M117.12 84.00L129.92 84.00L123.52 93.30Z"/>
<path d="M127.56 107.30L140.36 107.30L133.96 116.60Z"/>
<path d="M136.38 124.80L149.18 124.80L142.78 134.10Z"/>
<path d="M144.03 138.20L156.83 138.20L150.43 147.50Z"/>
<path d="M150.77 149.30L163.57 149.30L157.17 158.60Z"/>
<path d="M156.80 158.00L169.60 158.00L163.20 167.30Z"/>
<path d="M219.68 206.90L232.48 206.90L226.08 216.20Z"/>
<path d="M236.15 225.10L248.95 225.10L242.55 234.40Z"/>
<path d="M248.92 236.20L261.72 236.20L255.32 245.50Z"/>
<path d="M259.36 243.20L272.16 243.20L265.76 252.50Z"/>
<path d="M268.18 249.00L280.98 249.00L274.58 258.30Z"/>
<path d="M275.83 253.30L288.63 253.30L282.23 262.60Z"/>
<path d="M282.57 256.70L295.37 256.70L288.97 266.00Z"/>
<path d="M288.60 259.80L301.40 259.80L295.00 269.10Z"/>
<path d="M328.28 262.20L341.08 262.20L334.68 271.50Z"/>
<path d="M351.48 275.40L364.28 275.40L357.88 284.70Z"/>
<path d="M367.95 281.50L380.75 281.50L374.35 290.80Z"/>
<path d="M380.72 285.20L393.52 285.20L387.12 294.50Z"/>
<path d="M391.16 288.20L403.96 288.20L397.56 297.50Z"/>
<path d="M399.98 290.30L412.78 290.30L406.38 299.60Z"/>
<path d="M407.63 291.70L420.43 291.70L414.03 301.00Z"/>
<path d="M414.37 292.60L427.17 292.60L420.77 301.90Z"/>
<path d="M420.40 294.00L433.20 294.00L426.80 303.30Z"/>
<path d="M443.61 294.98L456.41 294.98L450.01 304.28Z"/>
<path d="M460.08 298.07L472.88 298.07L466.48 307.37Z"/>
<path d="M472.85 300.36L485.65 300.36L479.25 309.66Z"/>
<path d="M483.28 301.96L496.08 301.96L489.68 311.26Z"/>
<path d="M492.11 303.35L504.91 303.35L498.51 312.65Z"/>
<path d="M499.75 304.25L512.55 304.25L506.15 313.55Z"/>
<path d="M506.49 305.02L519.29 305.02L512.89 314.32Z"/>
<path d="M512.52 305.72L525.32 305.72L518.92 315.02Z"/>
<path d="M517.98 306.35L530.78 306.35L524.38 315.65Z"/>
<path d="M522.96 306.93L535.76 306.93L529.36 316.23Z"/>
<path d="M527.54 307.30L540.34 307.30L533.94 316.60Z"/>
<path d="M531.78 307.61L544.58 307.61L538.18 316.91Z"/>
<path d="M535.73 307.91L548.53 307.91L542.13 317.21Z"/>
<path d="M539.43 308.19L552.23 308.19L545.83 317.49Z"/>
<path d="M542.90 308.45L555.70 308.45L549.30 317.75Z"/>
<path d="M546.17 308.78L558.97 308.78L552.57 318.08Z"/>
<path d="M549.26 309.13L562.06 309.13L555.66 318.43Z"/>
<path d="M552.20 309.45L565.00 309.45L558.60 318.75Z"/>
<path d="M554.99 309.76L567.79 309.76L561.39 319.06Z"/>
<path d="M557.66 310.06L570.46 310.06L564.06 319.36Z"/>
<path d="M560.20 310.34L573.00 310.34L566.60 319.64Z"/>
<path d="M562.64 310.61L575.44 310.61L569.04 319.91Z"/>
<path d="M564.97 310.87L577.77 310.87L571.37 320.17Z"/>
<path d="M567.22 311.11L580.02 311.11L573.62 320.41Z"/>
<path d="M569.38 311.35L582.18 311.35L575.78 320.65Z"/>
<path d="M571.46 311.58L584.26 311.58L577.86 320.88Z"/>
<path d="M573.47 311.81L586.27 311.81L579.87 321.11Z"/>
<path d="M575.41 312.02L588.21 312.02L581.81 321.32Z"/>
<path d="M577.29 312.23L590.09 312.23L583.69 321.53Z"/>
<path d="M579.10 312.43L591.90 312.43L585.50 321.73Z"/>
<path d="M580.86 312.62L593.66 312.62L587.26 321.92Z"/>
<path d="M582.57 312.81L595.37 312.81L588.97 322.11Z"/>
<path d="M584.23 313.00L597.03 313.00L590.63 322.30Z"/>
<path d="M585.84 313.18L598.64 313.18L592.24 322.48Z"/>
<path d="M587.41 313.35L600.21 313.35L593.81 322.65Z"/>
<path d="M588.94 313.52L601.74 313.52L595.34 322.82Z"/>
<path d="M590.43 313.68L603.23 313.68L596.83 322.98Z"/>
<path d="M591.88 313.84L604.68 313.84L598.28 323.14Z"/>
<path d="M593.29 314.00L606.09 314.00L599.69 323.30Z"/>
<path d="M594.67 314.15L607.47 314.15L601.07 323.45Z"/>
<path d="M596.02 314.30L608.82 314.30L602.42 323.60Z"/>
<path d="M597.33 314.45L610.13 314.45L603.73 323.75Z"/>
<path d="M598.62 314.59L611.42 314.59L605.02 323.89Z"/>
<path d="M599.88 314.73L612.68 314.73L606.28 324.03Z"/>
<path d="M601.11 314.86L613.91 314.86L607.51 324.16Z"/>
<path d="M602.31 315.00L615.11 315.00L608.71 324.30Z"/>
<path d="M603.49 315.13L616.29 315.13L609.89 324.43Z"/>
<path d="M604.65 315.26L617.45 315.26L611.05 324.56Z"/>
<path d="M605.78 315.38L618.58 315.38L612.18 324.68Z"/>
<path d="M606.89 315.50L619.69 315.50L613.29 324.80Z"/>
<path d="M607.98 315.63L620.78 315.63L614.38 324.93Z"/>
<path d="M609.05 315.74L621.85 315.74L615.45 325.04Z"/>
<path d="M610.10 315.86L622.90 315.86L616.50 325.16Z"/>
<path d="M611.14 315.97L623.94 315.97L617.54 325.27Z"/>
<path d="M612.15 316.09L624.95 316.09L618.55 325.39Z"/>
<path d="M613.14 316.20L625.94 316.20L619.54 325.50Z"/>
<path d="M614.12 316.30L626.92 316.30L620.52 325.60Z"/>
<path d="M615.08 316.41L627.88 316.41L621.48 325.71Z"/>
<path d="M616.03 316.52L628.83 316.52L622.43 325.82Z"/>
<path d="M616.96 316.62L629.76 316.62L623.36 325.92Z"/>
<path d="M617.88 316.72L630.68 316.72L624.28 326.02Z"/>
<path d="M618.78 316.82L631.58 316.82L625.18 326.12Z"/>
<path d="M619.67 316.93L632.47 316.93L626.07 326.23Z"/>
<path d="M620.54 317.03L633.34 317.03L626.94 326.33Z"/>
<path d="M621.40 317.14L634.20 317.14L627.80 326.44Z"/>
<path d="M622.25 317.24L635.05 317.24L628.65 326.54Z"/>
<path d="M623.08 317.34L635.88 317.34L629.48 326.64Z"/>
<path d="M623.91 317.44L636.71 317.44L630.31 326.74Z"/>
<path d="M624.72 317.53L637.52 317.53L631.12 326.83Z"/>
<path d="M625.52 317.63L638.32 317.63L631.92 326.93Z"/>
<path d="M626.31 317.73L639.11 317.73L632.71 327.03Z"/>
<path d="M627.09 317.82L639.89 317.82L633.49 327.12Z"/>
<path d="M627.86 317.91L640.66 317.91L634.26 327.21Z"/>
<path d="M628.62 318.00L641.42 318.00L635.02 327.30Z"/>
<path d="M629.36 318.09L642.16 318.09L635.76 327.39Z"/>
<path d="M630.10 318.18L642.90 318.18L636.50 327.48Z"/>
<path d="M630.83 318.27L643.63 318.27L637.23 327.57Z"/>
<path d="M631.55 318.35L644.35 318.35L637.95 327.65Z"/>
<path d="M632.26 318.44L645.06 318.44L638.66 327.74Z"/>
<path d="M632.96 318.52L645.76 318.52L639.36 327.82Z"/>
<path d="M633.66 318.61L646.46 318.61L640.06 327.91Z"/>
<path d="M634.34 318.69L647.14 318.69L640.74 327.99Z"/>
<path d="M635.02 318.77L647.82 318.77L641.42 328.07Z"/>
<path d="M635.69 318.85L648.49 318.85L642.09 328.15Z"/>
<path d="M636.35 318.93L649.15 318.93L642.75 328.23Z"/>
<path d="M637.01 319.01L649.81 319.01L643.41 328.31Z"/>
<path d="M637.65 319.09L650.45 319.09L644.05 328.39Z"/>
<path d="M638.29 319.16L651.09 319.16L644.69 328.46Z"/>
<path d="M638.93 319.24L651.73 319.24L645.33 328.54Z"/>
<path d="M639.55 319.31L652.35 319.31L645.95 328.61Z"/>
<path d="M640.17 319.39L652.97 319.39L646.57 328.69Z"/>
<path d="M640.78 319.46L653.58 319.46L647.18 328.76Z"/>
<path d="M641.39 319.53L654.19 319.53L647.79 328.83Z"/>
<path d="M641.99 319.61L654.79 319.61L648.39 328.91Z"/>
<path d="M642.58 319.68L655.38 319.68L648.98 328.98Z"/>
<path d="M643.17 319.75L655.97 319.75L649.57 329.05Z"/>
<path d="M643.75 319.82L656.55 319.82L650.15 329.12Z"/>
<path d="M644.32 319.90L657.12 319.90L650.72 329.20Z"/>
<path d="M644.89 319.97L657.69 319.97L651.29 329.27Z"/>
<path d="M645.46 320.05L658.26 320.05L651.86 329.35Z"/>
<path d="M646.02 320.12L658.82 320.12L652.42 329.42Z"/>
<path d="M646.57 320.19L659.37 320.19L652.97 329.49Z"/>
<path d="M647.12 320.27L659.92 320.27L653.52 329.57Z"/>
<path d="M647.66 320.34L660.46 320.34L654.06 329.64Z"/>
<path d="M648.20 320.41L661.00 320.41L654.60 329.71Z"/>
<path d="M648.73 320.48L661.53 320.48L655.13 329.78Z"/>
<path d="M649.26 320.55L662.06 320.55L655.66 329.85Z"/>
<path d="M649.78 320.62L662.58 320.62L656.18 329.92Z"/>
<path d="M650.30 320.69L663.10 320.69L656.70 329.99Z"/>
<path d="M650.81 320.75L663.61 320.75L657.21 330.05Z"/>
<path d="M651.32 320.82L664.12 320.82L657.72 330.12Z"/>
<path d="M651.82 320.89L664.62 320.89L658.22 330.19Z"/>
<path d="M652.32 320.95L665.12 320.95L658.72 330.25Z"/>
<path d="M652.82 321.02L665.62 321.02L659.22 330.32Z"/>
<path d="M653.31 321.09L666.11 321.09L659.71 330.39Z"/>
<path d="M653.80 321.15L666.60 321.15L660.20 330.45Z"/>
<path d="M654.28 321.21L667.08 321.21L660.68 330.51Z"/>
<path d="M654.76 321.28L667.56 321.28L661.16 330.58Z"/>
<path d="M655.24 321.34L668.04 321.34L661.64 330.64Z"/>
<path d="M655.71 321.40L668.51 321.40L662.11 330.70Z"/>
<path d="M656.17 321.46L668.97 321.46L662.57 330.76Z"/>
<path d="M656.64 321.53L669.44 321.53L663.04 330.83Z"/>
<path d="M657.10 321.59L669.90 321.59L663.50 330.89Z"/>
<path d="M657.55 321.65L670.35 321.65L663.95 330.95Z"/>
<path d="M658.01 321.71L670.81 321.71L664.41 331.01Z"/>
<path d="M658.45 321.77L671.25 321.77L664.85 331.07Z"/>
<path d="M658.90 321.82L671.70 321.82L665.30 331.12Z"/>
<path d="M659.34 321.88L672.14 321.88L665.74 331.18Z"/>
<path d="M659.78 321.94L672.58 321.94L666.18 331.24Z"/>
<path d="M660.22 322.00L673.02 322.00L666.62 331.30Z"/>
<path d="M660.65 322.06L673.45 322.06L667.05 331.36Z"/>
<path d="M661.08 322.11L673.88 322.11L667.48 331.41Z"/>
<path d="M661.50 322.17L674.30 322.17L667.90 331.47Z"/>
<path d="M661.92 322.23L674.72 322.23L668.32 331.53Z"/>
<path d="M662.34 322.28L675.14 322.28L668.74 331.58Z"/>
<path d="M662.76 322.34L675.56 322.34L669.16 331.64Z"/>
<path d="M663.17 322.39L675.97 322.39L669.57 331.69Z"/>
<path d="M663.58 322.44L676.38 322.44L669.98 331.74Z"/>
<path d="M663.99 322.50L676.79 322.50L670.39 331.80Z"/>
<path d="M664.40 322.55L677.20 322.55L670.80 331.85Z"/>
<path d="M664.80 322.61L677.60 322.61L671.20 331.91Z"/>
<path d="M665.20 322.66L678.00 322.66L671.60 331.96Z"/>
<path d="M665.59 322.71L678.39 322.71L671.99 332.01Z"/>
<path d="M665.99 322.76L678.79 322.76L672.39 332.06Z"/>
<path d="M666.38 322.81L679.18 322.81L672.78 332.11Z"/>
<path d="M666.76 322.87L679.56 322.87L673.16 332.17Z"/>
<path d="M667.15 322.92L679.95 322.92L673.55 332.22Z"/>
<path d="M667.53 322.97L680.33 322.97L673.93 332.27Z"/>
<path d="M667.91 323.02L680.71 323.02L674.31 332.32Z"/>
<path d="M668.29 323.07L681.09 323.07L674.69 332.37Z"/>
<path d="M668.67 323.12L681.47 323.12L675.07 332.42Z"/>
<path d="M669.04 323.17L681.84 323.17L675.44 332.47Z"/>
<path d="M669.41 323.22L682.21 323.22L675.81 332.52Z"/>
<path d="M669.78 323.26L682.58 323.26L676.18 332.56Z"/>
<path d="M670.14 323.31L682.94 323.31L676.54 332.61Z"/>
<path d="M670.51 323.36L683.31 323.36L676.91 332.66Z"/>
<path d="M670.87 323.40L683.67 323.40L677.27 332.70Z"/>
<path d="M671.23 323.40L684.03 323.40L677.63 332.70Z"/>
</g>
</g>
<g stroke="#0c0c0c" fill="none">
<line x1="71.0" y1="5.3" x2="71.0" y2="377.79999999999995" stroke-width="1.95"/>
<line x1="683.85" y1="5.3" x2="683.85" y2="375.4" stroke-width="1.45"/>
<line x1="62.4" y1="6.3" x2="684.95" y2="6.3" stroke-width="2.0"/>
<line x1="62.4" y1="374.4" x2="684.95" y2="374.4" stroke-width="2.0"/>
<line x1="66.8" y1="356.00" x2="71.0" y2="356.00" stroke-width="2.0"/>
<line x1="62.4" y1="337.59" x2="71.0" y2="337.59" stroke-width="2.0"/>
<line x1="66.8" y1="319.18" x2="71.0" y2="319.18" stroke-width="2.0"/>
<line x1="62.4" y1="300.78" x2="71.0" y2="300.78" stroke-width="2.0"/>
<line x1="66.8" y1="282.38" x2="71.0" y2="282.38" stroke-width="2.0"/>
<line x1="62.4" y1="263.97" x2="71.0" y2="263.97" stroke-width="2.0"/>
<line x1="66.8" y1="245.56" x2="71.0" y2="245.56" stroke-width="2.0"/>
<line x1="62.4" y1="227.16" x2="71.0" y2="227.16" stroke-width="2.0"/>
<line x1="66.8" y1="208.75" x2="71.0" y2="208.75" stroke-width="2.0"/>
<line x1="62.4" y1="190.35" x2="71.0" y2="190.35" stroke-width="2.0"/>
<line x1="66.8" y1="171.94" x2="71.0" y2="171.94" stroke-width="2.0"/>
<line x1="62.4" y1="153.54" x2="71.0" y2="153.54" stroke-width="2.0"/>
<line x1="66.8" y1="135.13" x2="71.0" y2="135.13" stroke-width="2.0"/>
<line x1="62.4" y1="116.73" x2="71.0" y2="116.73" stroke-width="2.0"/>
<line x1="66.8" y1="98.32" x2="71.0" y2="98.32" stroke-width="2.0"/>
<line x1="62.4" y1="79.92" x2="71.0" y2="79.92" stroke-width="2.0"/>
<line x1="66.8" y1="61.51" x2="71.0" y2="61.51" stroke-width="2.0"/>
<line x1="62.4" y1="43.11" x2="71.0" y2="43.11" stroke-width="2.0"/>
<line x1="66.8" y1="24.70" x2="71.0" y2="24.70" stroke-width="2.0"/>
<line x1="93.88" y1="374.4" x2="93.88" y2="377.80" stroke-width="1.95"/>
<line x1="110.35" y1="374.4" x2="110.35" y2="377.80" stroke-width="1.95"/>
<line x1="123.12" y1="374.4" x2="123.12" y2="377.80" stroke-width="1.95"/>
<line x1="133.56" y1="374.4" x2="133.56" y2="377.80" stroke-width="1.95"/>
<line x1="142.38" y1="374.4" x2="142.38" y2="377.80" stroke-width="1.95"/>
<line x1="150.03" y1="374.4" x2="150.03" y2="377.80" stroke-width="1.95"/>
<line x1="156.77" y1="374.4" x2="156.77" y2="377.80" stroke-width="1.95"/>
<line x1="162.80" y1="374.4" x2="162.80" y2="381.50" stroke-width="1.95"/>
<line x1="202.48" y1="374.4" x2="202.48" y2="377.80" stroke-width="1.95"/>
<line x1="225.68" y1="374.4" x2="225.68" y2="377.80" stroke-width="1.95"/>
<line x1="242.15" y1="374.4" x2="242.15" y2="377.80" stroke-width="1.95"/>
<line x1="254.92" y1="374.4" x2="254.92" y2="377.80" stroke-width="1.95"/>
<line x1="265.36" y1="374.4" x2="265.36" y2="377.80" stroke-width="1.95"/>
<line x1="274.18" y1="374.4" x2="274.18" y2="377.80" stroke-width="1.95"/>
<line x1="281.83" y1="374.4" x2="281.83" y2="377.80" stroke-width="1.95"/>
<line x1="288.57" y1="374.4" x2="288.57" y2="377.80" stroke-width="1.95"/>
<line x1="294.60" y1="374.4" x2="294.60" y2="381.50" stroke-width="1.95"/>
<line x1="334.28" y1="374.4" x2="334.28" y2="377.80" stroke-width="1.95"/>
<line x1="357.48" y1="374.4" x2="357.48" y2="377.80" stroke-width="1.95"/>
<line x1="373.95" y1="374.4" x2="373.95" y2="377.80" stroke-width="1.95"/>
<line x1="386.72" y1="374.4" x2="386.72" y2="377.80" stroke-width="1.95"/>
<line x1="397.16" y1="374.4" x2="397.16" y2="377.80" stroke-width="1.95"/>
<line x1="405.98" y1="374.4" x2="405.98" y2="377.80" stroke-width="1.95"/>
<line x1="413.63" y1="374.4" x2="413.63" y2="377.80" stroke-width="1.95"/>
<line x1="420.37" y1="374.4" x2="420.37" y2="377.80" stroke-width="1.95"/>
<line x1="426.40" y1="374.4" x2="426.40" y2="381.50" stroke-width="1.95"/>
<line x1="466.08" y1="374.4" x2="466.08" y2="377.80" stroke-width="1.95"/>
<line x1="489.28" y1="374.4" x2="489.28" y2="377.80" stroke-width="1.95"/>
<line x1="505.75" y1="374.4" x2="505.75" y2="377.80" stroke-width="1.95"/>
<line x1="518.52" y1="374.4" x2="518.52" y2="377.80" stroke-width="1.95"/>
<line x1="528.96" y1="374.4" x2="528.96" y2="377.80" stroke-width="1.95"/>
<line x1="537.78" y1="374.4" x2="537.78" y2="377.80" stroke-width="1.95"/>
<line x1="545.43" y1="374.4" x2="545.43" y2="377.80" stroke-width="1.95"/>
<line x1="552.17" y1="374.4" x2="552.17" y2="377.80" stroke-width="1.95"/>
<line x1="558.20" y1="374.4" x2="558.20" y2="381.50" stroke-width="1.95"/>
<line x1="597.88" y1="374.4" x2="597.88" y2="377.80" stroke-width="1.95"/>
<line x1="621.08" y1="374.4" x2="621.08" y2="377.80" stroke-width="1.95"/>
<line x1="637.55" y1="374.4" x2="637.55" y2="377.80" stroke-width="1.95"/>
<line x1="650.32" y1="374.4" x2="650.32" y2="377.80" stroke-width="1.95"/>
<line x1="660.76" y1="374.4" x2="660.76" y2="377.80" stroke-width="1.95"/>
<line x1="669.58" y1="374.4" x2="669.58" y2="377.80" stroke-width="1.95"/>
<line x1="677.23" y1="374.4" x2="677.23" y2="377.80" stroke-width="1.95"/>
</g>
<text transform="translate(56.7,379.60) scale(1.145,1)" font-size="15.8" text-anchor="end">0</text>
<text transform="translate(56.7,342.79) scale(1.145,1)" font-size="15.8" text-anchor="end">20</text>
<text transform="translate(56.7,305.98) scale(1.145,1)" font-size="15.8" text-anchor="end">40</text>
<text transform="translate(56.7,269.17) scale(1.145,1)" font-size="15.8" text-anchor="end">60</text>
<text transform="translate(56.7,232.36) scale(1.145,1)" font-size="15.8" text-anchor="end">80</text>
<text transform="translate(56.7,195.55) scale(1.145,1)" font-size="15.8" text-anchor="end">100</text>
<text transform="translate(56.7,158.74) scale(1.145,1)" font-size="15.8" text-anchor="end">120</text>
<text transform="translate(56.7,121.93) scale(1.145,1)" font-size="15.8" text-anchor="end">140</text>
<text transform="translate(56.7,85.12) scale(1.145,1)" font-size="15.8" text-anchor="end">160</text>
<text transform="translate(56.7,48.31) scale(1.145,1)" font-size="15.8" text-anchor="end">180</text>
<text transform="translate(56.7,11.50) scale(1.145,1)" font-size="15.8" text-anchor="end">200</text>
<text transform="translate(149.05,399.9) scale(1.166,1)" font-size="15.5">10</text>
<text transform="translate(169.45,394.1) scale(1.27,1)" font-size="10.4">3</text>
<text transform="translate(280.85,399.9) scale(1.166,1)" font-size="15.5">10</text>
<text transform="translate(301.25,394.1) scale(1.27,1)" font-size="10.4">4</text>
<text transform="translate(412.65,399.9) scale(1.166,1)" font-size="15.5">10</text>
<text transform="translate(433.05,394.1) scale(1.27,1)" font-size="10.4">5</text>
<text transform="translate(544.45,399.9) scale(1.166,1)" font-size="15.5">10</text>
<text transform="translate(564.85,394.1) scale(1.27,1)" font-size="10.4">6</text>
<text transform="translate(377.8,425.3) scale(1.325,1)" font-size="17" text-anchor="middle" style="stroke-width:0.15px">Frequency (Hz)</text>
<text transform="translate(16.4,190.3) scale(1.208,1) rotate(-90)" font-size="18.1" text-anchor="middle" style="stroke-width:0.2px">Permitivity (ε')</text>
<g fill="#515151"><rect x="579.20" y="39.90" width="9.0" height="8.0"/></g>
<g fill="#F14040"><ellipse cx="583.70" cy="64.35" rx="5.2" ry="4.35"/></g>
<g fill="#1A6FDF"><path d="M577.50 87.85L590.30 87.85L583.90 78.85Z"/></g>
<g fill="#37AD6B"><path d="M577.50 102.10L590.30 102.10L583.90 111.10Z"/></g>
<text transform="translate(612.2,49.50) scale(1.23,1)" font-size="16.7">Cu1</text>
<text transform="translate(612.2,69.95) scale(1.23,1)" font-size="16.7">Cu2</text>
<text transform="translate(612.2,90.40) scale(1.23,1)" font-size="16.7">Cu3</text>
<text transform="translate(612.2,110.75) scale(1.23,1)" font-size="16.7">Cu5</text>
</svg></body></html>
